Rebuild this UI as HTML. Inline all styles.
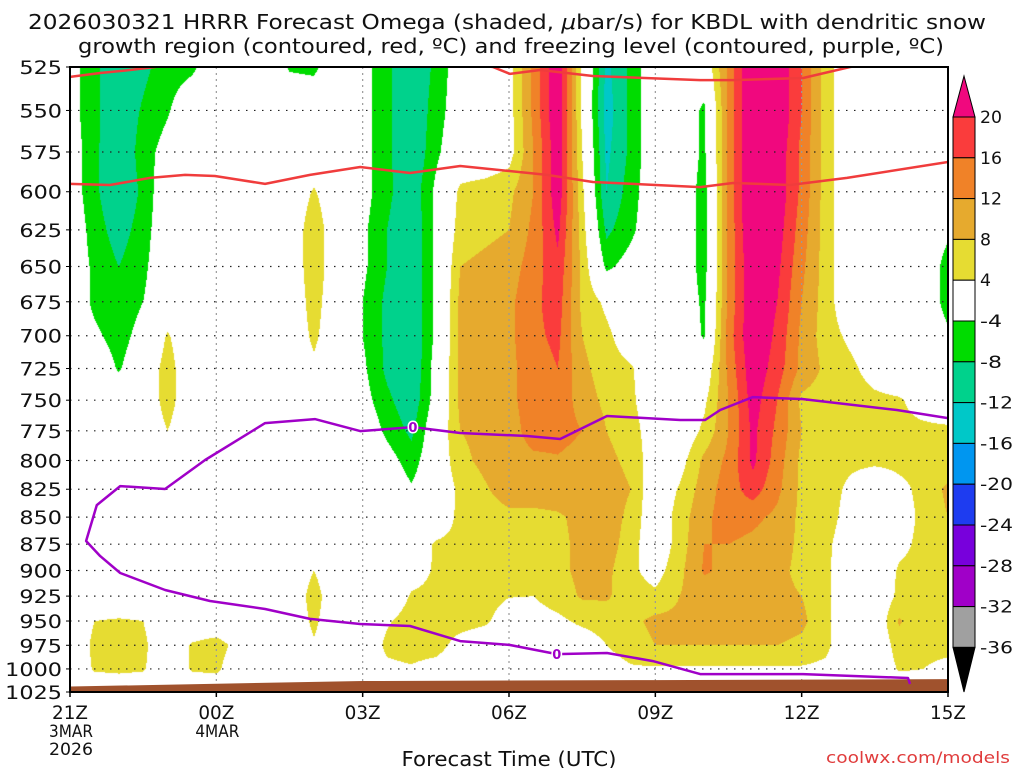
<!DOCTYPE html>
<html><head><meta charset="utf-8">
<style>
html,body{margin:0;padding:0;background:#fff;}
#wrap{position:relative;width:1024px;height:768px;overflow:hidden;background:#fff;}
#field{position:absolute;left:70px;top:67px;}
#ov{position:absolute;left:0;top:0;}
text{font-family:"DejaVu Sans","Liberation Sans",sans-serif;fill:#111;}
</style></head>
<body>
<div id="wrap">
<canvas id="field" width="878" height="625"></canvas>
<svg id="ov" width="1024" height="768" xmlns="http://www.w3.org/2000/svg">
<g id="grid"></g>
<g id="ground"></g>
<g id="lines"></g>
<rect x="70" y="67" width="878" height="625" fill="none" stroke="#000" stroke-width="2"/>
<g id="yaxis"></g>
<g id="xaxis"></g>
<g id="cbar"></g>
<text x="507" y="29" font-size="20" text-anchor="middle" textLength="958" lengthAdjust="spacingAndGlyphs">2026030321 HRRR Forecast Omega (shaded, <tspan font-style="italic">μ</tspan>bar/s) for KBDL with dendritic snow</text>
<text x="511" y="53" font-size="20" text-anchor="middle" textLength="866" lengthAdjust="spacingAndGlyphs">growth region (contoured, red, ºC) and freezing level (contoured, purple, ºC)</text>
<text x="509" y="766" font-size="20" text-anchor="middle" textLength="215" lengthAdjust="spacingAndGlyphs">Forecast Time (UTC)</text>
<text x="918" y="763" font-size="16" text-anchor="middle" textLength="184" lengthAdjust="spacingAndGlyphs" style="fill:#e03c3c">coolwx.com/models</text>
</svg>
</div>
<script>
// ---- data ----
const levels=[525,550,575,600,625,650,675,700,725,750,775,800,825,850,875,900,925,950,975,1000,1025];
const hoursPerCol=0.5;
const w525=[-2,-7,-11,-9,-6,-5,0,0,0,-4.5,-5,0,-2,-7,-12,-7,-1,0,2,13,24,3,-13,-7,0,0,0,13,26,24,16,6,0,0,0,0,0];
const w550=[-2,-7,-11,-7.5,-4.5,0,0,0,0,0,0,0,-2,-7,-12,-6,-1,0,2,13,24,3,-14,-7,0,0,-5,13,26,24,16,6,0,0,0,0,0];
const w575=[-1,-7,-12,-6,-2,0,0,0,0,0,0,0,-2,-7,-12,-5,0,0,2,12,23,4,-13,-7,0,0,-5,13,26,23,15,6,0,0,0,0,0];
const w600=[-1,-7,-12,-7,0,0,0,0,0,0,4.5,0,-2,-7,-11,-3,5,6,7,12,23,5,-12,-6,0,0,-6,13,26,23,15,6,0,0,0,0,0];
const w625=[0,-6,-10,-6,0,0,0,0,0,0,7,0,-3,-8,-12,-3,6,7,8,13,21,6,-9,-5,0,0,-6,13,25,22,14,6,0,0,0,0,-3];
const w650=[0,-5,-8,-5,0,0,0,0,0,0,7,0,-3,-8,-12,-3,8,9,10,14,19,7,-5,-2,0,0,-6,13,24,21,13,6,0,0,0,0,-6];
const w675=[0,-5,-7,-4,0,0,0,0,0,0,6,0,-4,-9,-12,-3,9,10,11,15,18,7,3,0,0,0,-5,13,24,20,12,6,0,0,0,0,-6];
const w700=[0,-3,-6,-2,4.5,0,0,0,0,0,5,0,-4,-9,-12,-3,9,10,11,15,17,8,5,1,0,0,-4.5,14,24,19,11,6,3,0,0,0,-3];
const w725=[0,0,-4.5,0,6,0,0,0,0,0,3,0,-3,-9,-12,-2,9,10,11,14,16,9,6,4.5,0,0,0,13,23,18,11,7,5,2,0,0,0];
const w750=[0,0,0,0,6,0,0,0,0,0,0,0,-2,-7,-11,-2,9,10,11,14,15,10,7,5,0,0,3,12,22,16,7,6,6,5,4.5,2,0];
const w775=[0,0,0,0,4,0,0,0,0,0,0,0,0,-5,-9,0,8,9,10,14,14,12,8,6,1,0,5,12,21,15,8,6,6,6,5,5,5];
const w800=[0,0,0,0,0,0,0,0,0,0,0,0,0,-2,-6,0,7,9,10,11,11.5,10,9,7,1,2,9,13,21,14,7,6,5,5,5,5,5];
const w825=[0,0,0,0,0,0,0,0,0,0,0,0,0,0,-3.5,0,5,7.5,10,10,10,10,10,8,0,4.5,10,14,18,13,7,6,3,0,3,5,9];
const w850=[0,0,0,0,0,0,0,0,0,0,0,0,0,0,0,1,5,6,7,7,7.5,9,10,7,0,6,11,14,13,11,7,6,2,0,2,5,8];
const w875=[0,0,0,0,0,0,0,0,0,0,0,0,0,0,1,4.5,5,5,6,6,7,9,10,6,0,6,12,12,11,10,7,5,1,0,3,5,6];
const w900=[0,0,0,0,0,0,0,0,0,0,4,0,0,0,2,4.5,5,5.5,6,6,7,9,9,5,2,7,12.5,11,10,9,7,5,0,0.5,4.5,5,5];
const w925=[0,0,0,0,0,0,0,0,0,0,6,0,0,0,4.5,5,5.5,6,4.2,4,6,8.5,8.5,6,5,8,10,10,10,9,8,5,0,0,5,5,5];
const w950=[0,4,4.5,4,0,0,0,0,0,0,5,0,0,3.5,6,6,6,5,1,2,3,5,6,7,9,9,10,10,10,10,9,5,0,0,8.5,5,5];
const w975=[0,5,6,5,0,4.5,6,2,0,0,3.5,0,0,5,6,6,2,0,0,0,0,1,4,6,8,8,8,8,8,8,7,5,0,0,6,5,5];
const w1000=[0,4.5,5,4.5,0,4.5,5,0,0,0,0,0,0,3,3.5,2,0,0,0,0,0,0,2,3.5,3.5,3.5,3.5,3.5,3.5,3.5,3.5,3,0,0,4.5,4,3];
const w1025=[0,0,0,0,0,0,0,0,0,0,0,0,0,0,0,0,0,0,0,0,0,0,0,0,0,0,0,0,0,0,0,0,0,0,0,0,0];
const omegaGrid=[w525,w550,w575,w600,w625,w650,w675,w700,w725,w750,w775,w800,w825,w850,w875,w900,w925,w950,w975,w1000,w1025];

const cbLevels=[20,16,12,8,4,-4,-8,-12,-16,-20,-24,-28,-32,-36];
const cbColors=['#f0087e','#fa3c3c','#f08228','#e6aa2e','#e6dc32','#ffffff','#00dc00','#00d28c','#00c8c8','#0096f0','#1e3cf0','#7800dc','#a000c8','#a0a0a0','#000000'];

const yTicks=[525,550,575,600,625,650,675,700,725,750,775,800,825,850,875,900,925,950,975,1000,1025];
const xTickHours=[0,3,6,9,12,15,18];
const xTickLabels=['21Z','00Z','03Z','06Z','09Z','12Z','15Z'];
const xDateLabels=[['3MAR','2026'],['4MAR'],[],[],[],[],[]];

const redUpperAT=[0,0.62,1.23,1.74,2.15];
const redUpperAP=[530.6,528.4,526.7,525,523.3];
const redUpperBT=[8.2,8.67,9.02,9.64,10.72,12.92,13.59,15.03,15.99,16.4];
const redUpperBP=[523.3,525,528.9,526.7,530.1,532.4,532.4,531.2,525,523.3];
const redLowerT=[0,0.82,1.64,2.36,2.97,4.0,4.92,5.95,6.97,8.0,9.78,10.72,12.92,13.59,14.76,15.93,18];
const redLowerP=[595.0,595.7,591.2,589.3,590.0,595.0,589.3,584.3,588.1,583.7,589.3,593.8,597.0,594.4,595.7,591.2,581.2];
const frzT=[18,16.95,15.03,14.0,13.33,13.02,12.51,11.01,10.05,9.37,8.0,7.03,5.95,5.02,4.0,2.77,1.95,1.03,0.55,0.33,0.62,1.03,1.95,2.87,4.0,4.92,5.95,6.97,8.0,9.02,9.98,11.01,11.95,12.92,15.03,17.18,17.22];
const frzP=[764.5,757.9,749.1,747.5,757.9,766.1,766.1,762.8,781.8,779.3,776.8,771.9,775.2,765.3,768.6,799.6,824.8,822.2,839.1,872.0,886.2,902.4,919.0,929.9,937.9,947.9,953.0,955.1,970.6,974.7,984.2,983.1,991.6,1005.5,1005.5,1009.8,1016.3];
const frzLabelT=[7.03,9.98];
const frzLabelP=[771.9,984.2];
const surfaceT=[0,6,12,18];
const surfaceP=[1019,1013,1012,1011];

// ---- axes ----
const PX0=70,PW=878,PY0=67,PH=625,TMAX=18,L=Math.log(1025/525);
function xOf(t){return PX0+t/TMAX*PW;}
function yOf(p){return PY0+PH*Math.log(p/525)/L;}
const NS='http://www.w3.org/2000/svg';
function mk(tag,attrs,parent){const e=document.createElementNS(NS,tag);for(const k in attrs)e.setAttribute(k,attrs[k]);parent.appendChild(e);return e;}

// ---- shading ----
(function(){
  const cv=document.getElementById('field');const ctx=cv.getContext('2d');
  const img=ctx.createImageData(PW,PH);const d=img.data;
  const rgb=cbColors.map(c=>[parseInt(c.substr(1,2),16),parseInt(c.substr(3,2),16),parseInt(c.substr(5,2),16)]);
  const nR=omegaGrid.length,nC=omegaGrid[0].length;
  for(let py=0;py<PH;py++){
    const p=525*Math.exp((py+0.5)/PH*L);
    let fr=(p-levels[0])/25;let r0=Math.min(nR-2,Math.max(0,Math.floor(fr)));const fy=Math.min(1,Math.max(0,fr-r0));
    const A=omegaGrid[r0],B=omegaGrid[r0+1];
    for(let px=0;px<PW;px++){
      const fc=(px+0.5)/PW*TMAX/hoursPerCol;
      let c0=Math.min(nC-2,Math.floor(fc));const fx=fc-c0;
      const v=(A[c0]*(1-fx)+A[c0+1]*fx)*(1-fy)+(B[c0]*(1-fx)+B[c0+1]*fx)*fy;
      let k=cbLevels.length;
      for(let i=0;i<cbLevels.length;i++){if(v>=cbLevels[i]){k=i;break;}}
      const col=rgb[k];const o=(py*PW+px)*4;
      d[o]=col[0];d[o+1]=col[1];d[o+2]=col[2];d[o+3]=255;
    }
  }
  ctx.putImageData(img,0,0);
})();

// ---- grid ----
const g=document.getElementById('grid');
yTicks.forEach(p=>{const y=yOf(p);const l=mk('line',{x1:PX0,x2:PX0+PW,y1:y,y2:y,stroke:'#222','stroke-width':1.2,'stroke-dasharray':'1.5 6.5'},g);

});
xTickHours.forEach(h=>{if(h===0||h===TMAX)return;const x=xOf(h);const l=mk('line',{x1:x,x2:x,y1:PY0,y2:PY0+PH,stroke:'#999','stroke-width':1.2,'stroke-dasharray':'2 4'},g);

});

// ---- ground ----
(function(){const gr=document.getElementById('ground');let pts=surfaceT.map((t,i)=>xOf(t)+','+yOf(surfaceP[i]));pts.push(xOf(TMAX)+','+yOf(1025));pts.push(xOf(0)+','+yOf(1025));
const pg=mk('polygon',{points:pts.join(' '),fill:'#a0522d'},gr);

})();

// ---- lines ----
const lg=document.getElementById('lines');
function path(T,P,color,name,w){const d=T.map((t,i)=>(i?'L':'M')+xOf(t).toFixed(1)+' '+yOf(P[i]).toFixed(1)).join(' ');
const e=mk('path',{d:d,fill:'none',stroke:color,'stroke-width':w,'stroke-linejoin':'round','clip-path':'url(#plotclip)'},lg);

}
mk('clipPath',{id:'plotclip'},document.getElementById('ov')).appendChild(document.createElementNS(NS,'rect'));
(function(){const r=document.querySelector('#plotclip rect');r.setAttribute('x',PX0);r.setAttribute('y',PY0);r.setAttribute('width',PW);r.setAttribute('height',PH);})();
path(redUpperAT,redUpperAP,'#f03c3c','dgz-top-line-a',2.5);
path(redUpperBT,redUpperBP,'#f03c3c','dgz-top-line-b',2.5);
path(redLowerT,redLowerP,'#f03c3c','dgz-bottom-line',2.5);
path(frzT,frzP,'#a000c8','freezing-level-line',2.5);
frzLabelT.forEach((t,i)=>{const tx=mk('text',{x:xOf(t),y:yOf(frzLabelP[i])+5,'font-size':13,'font-weight':'bold','text-anchor':'middle',style:'fill:#a000c8;stroke:#fff;stroke-width:3;paint-order:stroke'},lg);tx.textContent='0';

});

// ---- y axis ----
const ya=document.getElementById('yaxis');
yTicks.forEach(p=>{const y=yOf(p);const s=String(p);const tx=mk('text',{x:62,y:y+7,'font-size':19,'text-anchor':'end',textLength:s.length*14.2,lengthAdjust:'spacingAndGlyphs'},ya);tx.textContent=s;


const tk=mk('line',{x1:PX0-4,x2:PX0,y1:y,y2:y,stroke:'#000','stroke-width':1},ya);

});

// ---- x axis ----
const xa=document.getElementById('xaxis');
xTickHours.forEach((h,i)=>{const x=xOf(h);const tx=mk('text',{x:x,y:719,'font-size':19,'text-anchor':'middle',textLength:36,lengthAdjust:'spacingAndGlyphs'},xa);tx.textContent=xTickLabels[i];


const tk=mk('line',{x1:x,x2:x,y1:PY0+PH,y2:PY0+PH+5,stroke:'#000','stroke-width':1.5},xa);


xDateLabels[i].forEach((s,j)=>{const dt=mk('text',{x:x-21,y:737+j*18,'font-size':17,textLength:s.length*11,lengthAdjust:'spacingAndGlyphs'},xa);dt.textContent=s;

});});

// ---- colorbar ----
const cb=document.getElementById('cbar');
const CBX=953,CBW=22,CBTOP=117,CBSTEP=40.8;
function cbY(i){return CBTOP+i*CBSTEP;}
const tri1=mk('polygon',{points:`${CBX},${cbY(0)} ${CBX+CBW},${cbY(0)} ${CBX+CBW/2},76`,fill:cbColors[0],stroke:'#000','stroke-width':1},cb);


for(let i=0;i<cbLevels.length-1;i++){const r=mk('rect',{x:CBX,y:cbY(i),width:CBW,height:CBSTEP,fill:cbColors[i+1],stroke:'#000','stroke-width':1},cb);

}
const last=cbLevels.length-1;
const tri2=mk('polygon',{points:`${CBX},${cbY(last)} ${CBX+CBW},${cbY(last)} ${CBX+CBW/2},692`,fill:cbColors[cbColors.length-1],stroke:'#000','stroke-width':1},cb);


cbLevels.forEach((v,i)=>{const s=String(v);const tx=mk('text',{x:980,y:cbY(i)+6,'font-size':17,textLength:s.length*11,lengthAdjust:'spacingAndGlyphs'},cb);tx.textContent=s;

});
</script>
</body></html>
